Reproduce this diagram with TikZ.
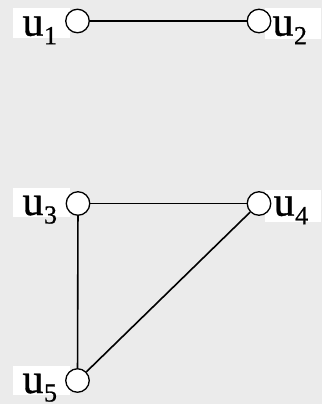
\documentclass[tikz,border=0pt]{standalone}
\usepackage{fontspec}
\setmainfont{Liberation Serif}
\newfontfamily\labfont[FakeBold=0.8]{Liberation Serif}
\definecolor{bggray}{RGB}{235,235,235}
\newcommand{\lab}[2]{\labfont\fontsize{42bp}{42bp}\selectfont #1\kern0.5bp\raisebox{-8.5bp}{\fontsize{26bp}{26bp}\selectfont #2}}
\tikzset{
  vtx/.style={circle,draw=black,fill=white,line width=1.3bp,minimum size=23.5bp,inner sep=0pt},
  lblbox/.style={rectangle,fill=white,inner sep=0pt,minimum width=57bp,minimum height=29.5bp},
  lbltext/.style={inner sep=0pt,anchor=base west},
  edge/.style={line width=1.6bp,draw=black}
}
\begin{document}
\begin{tikzpicture}[x=1bp,y=-1bp]
\fill[bggray] (0,0) rectangle (322,404);
\useasboundingbox (0,0) rectangle (322,404);
% label boxes
\node[lblbox] (b1) at (41.5,22.75) {};
\node[lblbox,minimum width=56bp,minimum height=31bp] (b2) at (293,23.5) {};
\node[lblbox,minimum height=29bp] (b3) at (41.5,202.5) {};
\node[lblbox,minimum width=56bp,minimum height=32bp] (b4) at (293,206) {};
\node[lblbox,minimum height=29bp] (b5) at (41.5,380.5) {};
% vertices
\node[vtx] (u1) at (77.5,21) {};
\node[vtx] (u2) at (259,21) {};
\node[vtx] (u3) at (78,203.5) {};
\node[vtx] (u4) at (259,203.5) {};
\node[vtx] (u5) at (77.5,380.5) {};
% edges
\draw[edge] (u1) -- (u2);
\draw[edge] (u3) -- (u4);
\draw[edge] (u3) -- (u5);
\draw[edge] (u4) -- (u5);
% labels
\node[lbltext] (t1) at (22.3,35.7) {\lab{u}{1}};
\node[lbltext] (t2) at (272.3,35.7) {\lab{u}{2}};
\node[lbltext] (t3) at (22.3,215) {\lab{u}{3}};
\node[lbltext] (t4) at (273.5,215.7) {\lab{u}{4}};
\node[lbltext] (t5) at (22.3,393) {\lab{u}{5}};
\end{tikzpicture}
\end{document}
